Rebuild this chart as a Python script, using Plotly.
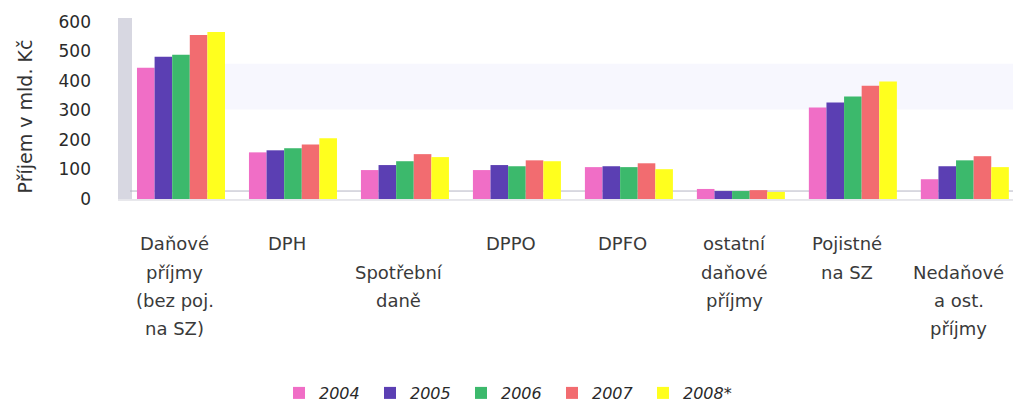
import plotly.graph_objects as go

# Příjmy státního rozpočtu podle druhu (mld. Kč)
years = ["2004", "2005", "2006", "2007", "2008*"]
categories = [
    "Daňové příjmy (bez poj. na SZ)", "DPH", "Spotřební daně", "DPPO",
    "DPFO", "ostatní daňové příjmy", "Pojistné na SZ", "Nedaňové a ost. příjmy",
]
# řádky popisků kategorií ("" = prázdný řádek nahoře)
category_lines = [
    ["Daňové", "příjmy", "(bez poj.", "na SZ)"],
    ["DPH"],
    ["", "Spotřební", "daně"],
    ["DPPO"],
    ["DPFO"],
    ["ostatní", "daňové", "příjmy"],
    ["Pojistné", "na SZ"],
    ["", "Nedaňové", "a ost.", "příjmy"],
]
v2004 = [445, 158, 98, 98, 108, 34, 310, 67]
v2005 = [482, 165, 115, 115, 111, 27, 327, 111]
v2006 = [489, 172, 128, 111, 108, 27, 347, 131]
v2007 = [556, 185, 152, 131, 121, 30, 384, 145]
v2008 = [566, 206, 142, 128, 101, 24, 398, 108]
series = [v2004, v2005, v2006, v2007, v2008]
y_ticks = [0, 100, 200, 300, 400, 500, 600]
y_title = "Příjem v mld. Kč"

colors = ["#f06ec6", "#5b3fb3", "#3cb96c", "#f26c70", "#ffff1e"]

W, H = 1013, 410
L, T, B = 125, 16, 210
PH = H - T - B  # plot height in px


def py(px):
    """pixel row -> paper y"""
    return (H - B - px) / PH


def px_x(px):
    """pixel column -> paper x"""
    return (px - L) / (W - L)


fig = go.Figure()
for name, vals, col in zip(years, series, colors):
    fig.add_trace(go.Bar(
        x=categories, y=vals, name=name,
        marker=dict(color=col, line=dict(width=0)),
    ))

font_family = "DejaVu Sans"

annotations = []
for i, lines in enumerate(category_lines):
    for j, line in enumerate(lines):
        if not line:
            continue
        annotations.append(dict(
            x=i, xref="x", y=py(245 + 28.5 * j), yref="paper",
            text=line, showarrow=False, xanchor="center", yanchor="middle",
            xshift=-6, font=dict(family=font_family, size=18, color="#3a3a3a"),
        ))

annotations.append(dict(
    x=px_x(25), xref="paper", y=py(117), yref="paper", text=y_title,
    textangle=-90, showarrow=False, xanchor="center", yanchor="middle",
    font=dict(family=font_family, size=19, color="#333333"),
))

shapes = [
    # faint lavender haze of the back wall
    dict(type="rect", xref="paper", yref="paper", layer="below",
         x0=px_x(200), x1=1.0, y0=py(110), y1=py(64),
         fillcolor="rgba(236,236,252,0.4)", line=dict(width=0)),
    # left side wall
    dict(type="rect", xref="paper", yref="paper", layer="below",
         x0=px_x(118), x1=px_x(132), y0=py(200), y1=py(18),
         fillcolor="#d7d7e1", line=dict(width=0)),
    # floor edges
    dict(type="line", xref="paper", yref="paper", layer="below",
         x0=px_x(130), x1=1.0, y0=py(192), y1=py(192),
         line=dict(color="#b4b4c4", width=1)),
    dict(type="line", xref="paper", yref="paper", layer="below",
         x0=px_x(118), x1=1.0, y0=py(201), y1=py(201),
         line=dict(color="#cfcfd8", width=1)),
]

fig.update_layout(
    width=W, height=H,
    margin=dict(l=L, r=0, t=T, b=B, pad=0),
    paper_bgcolor="white", plot_bgcolor="rgba(0,0,0,0)",
    barmode="group", bargap=0.214, bargroupgap=0,
    showlegend=True,
    legend=dict(
        orientation="h", x=px_x(279), xanchor="left", y=py(395), yanchor="middle",
        font=dict(family=font_family, size=16, color="#2a2a2a", style="italic"),
        entrywidth=46, entrywidthmode="pixels", itemwidth=30,
        bgcolor="rgba(0,0,0,0)",
    ),
    xaxis=dict(
        range=[-0.5, 7.43], showticklabels=False, showgrid=False,
        zeroline=False, showline=False, ticks="",
    ),
    yaxis=dict(
        range=[0, 620], tickvals=y_ticks, showgrid=False, zeroline=False,
        showline=False, ticks="", ticklabelstandoff=33,
        tickfont=dict(family=font_family, size=17, color="#2a2a2a"),
    ),
    annotations=annotations,
    shapes=shapes,
)

fig.write_html("out.html")
